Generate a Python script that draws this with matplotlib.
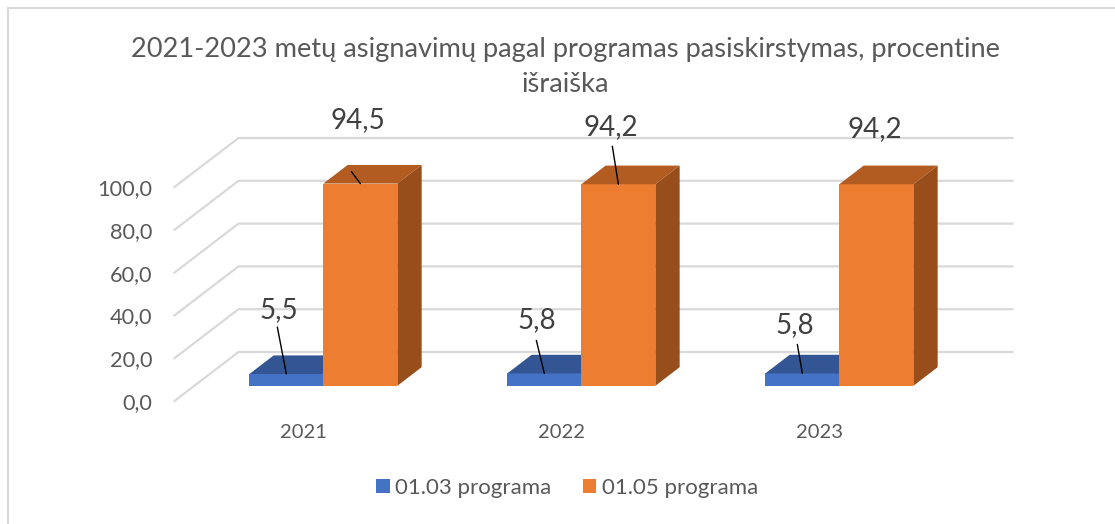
import matplotlib
matplotlib.use('Agg')
import matplotlib.pyplot as plt
from matplotlib.patches import Polygon, Rectangle
from matplotlib.lines import Line2D

years = ['2021', '2022', '2023']
prog_03 = [5.5, 5.8, 5.8]
prog_05 = [94.5, 94.2, 94.2]
label_03 = ['5,5', '5,8', '5,8']
label_05 = ['94,5', '94,2', '94,2']
y_ticks = [0, 20, 40, 60, 80, 100]
y_labels = ['0,0', '20,0', '40,0', '60,0', '80,0', '100,0']

plt.rcParams['font.family'] = ['Lato', 'DejaVu Sans']

W, H = 1115, 524
fig = plt.figure(figsize=(W / 100, H / 100), dpi=100)
ax = fig.add_axes([174.5 / W, 1 - 401 / H, 774 / W, 214 / H])
ax.set_xlim(0, 3)
ax.set_ylim(0, 100)
for s in ax.spines.values():
    s.set_visible(False)
ax.patch.set_visible(False)

# oblique projection: full wall depth in data units
DX = 64 / 258
DY = 49 / 2.14
BAR_W = 74 / 258
D0, D1 = 0.31, 0.69


def proj(x, y, d):
    return x + DX * d, y + DY * d


def bar3d(x, val, front, top, side, z):
    x2 = x + BAR_W
    ax.add_patch(Polygon([proj(x, 0, D0), proj(x2, 0, D0), proj(x2, val, D0), proj(x, val, D0)],
                         fc=front, ec='none', zorder=z, clip_on=False))
    ax.add_patch(Polygon([proj(x, val, D0), proj(x2, val, D0), proj(x2, val, D1), proj(x, val, D1)],
                         fc=top, ec='none', zorder=z, clip_on=False))
    ax.add_patch(Polygon([proj(x2, 0, D0), proj(x2, 0, D1), proj(x2, val, D1), proj(x2, val, D0)],
                         fc=side, ec='none', zorder=z, clip_on=False))


# gridlines
for t in y_ticks:
    x0, y0 = proj(0, t, 1)
    ax.plot([0, x0, 3 + DX], [t, y0, y0], color='#D9D9D9', lw=1.6, zorder=1, clip_on=False,
            solid_joinstyle='miter')

# bars
for i in range(3):
    c = i + 0.5
    bar3d(c - BAR_W, prog_03[i], '#4472C4', '#335594', '#2A4679', 3)
    bar3d(c, prog_05[i], '#ED7D31', '#B35C21', '#984E1B', 4)

# data labels and leader lines, offsets in pixels (x right, y up)
off_03 = [(-9, 47), (-8, 33), (-5, 29)]
off_05 = [(-9, 12), (-6, 38), None]
text_03 = [(-8, 64), (-8, 53), (-8, 48)]
text_05 = [(-2, 64), (-8, 57), (-2, 55)]
line_style = dict(arrowstyle='-', color='black', lw=1, shrinkA=0, shrinkB=0)
for i in range(3):
    c = i + 0.5
    xy = proj(c - BAR_W / 2, prog_03[i], D0)
    ax.annotate('', xy=xy, xytext=off_03[i], textcoords='offset pixels', arrowprops=line_style,
                annotation_clip=False, zorder=6)
    ax.annotate(label_03[i], xy=xy, xytext=text_03[i], textcoords='offset pixels', ha='center', va='center',
                fontsize=20, color='#404040', annotation_clip=False, zorder=7)
    xy = proj(c + BAR_W / 2, prog_05[i], D0)
    if off_05[i]:
        ax.annotate('', xy=xy, xytext=off_05[i], textcoords='offset pixels', arrowprops=line_style,
                    annotation_clip=False, zorder=6)
    ax.annotate(label_05[i], xy=xy, xytext=text_05[i], textcoords='offset pixels', ha='center', va='center',
                fontsize=20, color='#404040', annotation_clip=False, zorder=7)

# axis labels
ax.set_yticks(y_ticks)
ax.set_yticklabels(y_labels)
ax.set_xticks([i + 0.5 for i in range(3)])
ax.set_xticklabels(years)
ax.tick_params(axis='y', length=0, pad=16, labelsize=15.7, labelcolor='#595959')
ax.tick_params(axis='x', length=0, pad=16.5, labelsize=14.5, labelcolor='#595959')

fig.text(565 / W, 1 - 67 / H, '2021-2023 metų asignavimų pagal programas pasiskirstymas, procentine\nišraiška',
         ha='center', va='center', fontsize=19.6, color='#595959', linespacing=1.45)

# legend
handles = [Rectangle((0, 0), 1, 1, fc='#4472C4'), Rectangle((0, 0), 1, 1, fc='#ED7D31')]
fig.legend(handles, ['01.03 programa', '01.05 programa'], loc='center', bbox_to_anchor=(567 / W, 1 - 488 / H),
           ncol=2, frameon=False, fontsize=16, labelcolor='#595959', handlelength=0.6, handleheight=0.6,
           handletextpad=0.23, columnspacing=1.45)

# chart frame
for xs, ys in [([8, 8], [524, 8]), ([8, 1115], [8, 8])]:
    fig.add_artist(Line2D([x / W for x in xs], [1 - y / H for y in ys], color='#D9D9D9', lw=1.5))

fig.savefig('out.png', dpi=100)
